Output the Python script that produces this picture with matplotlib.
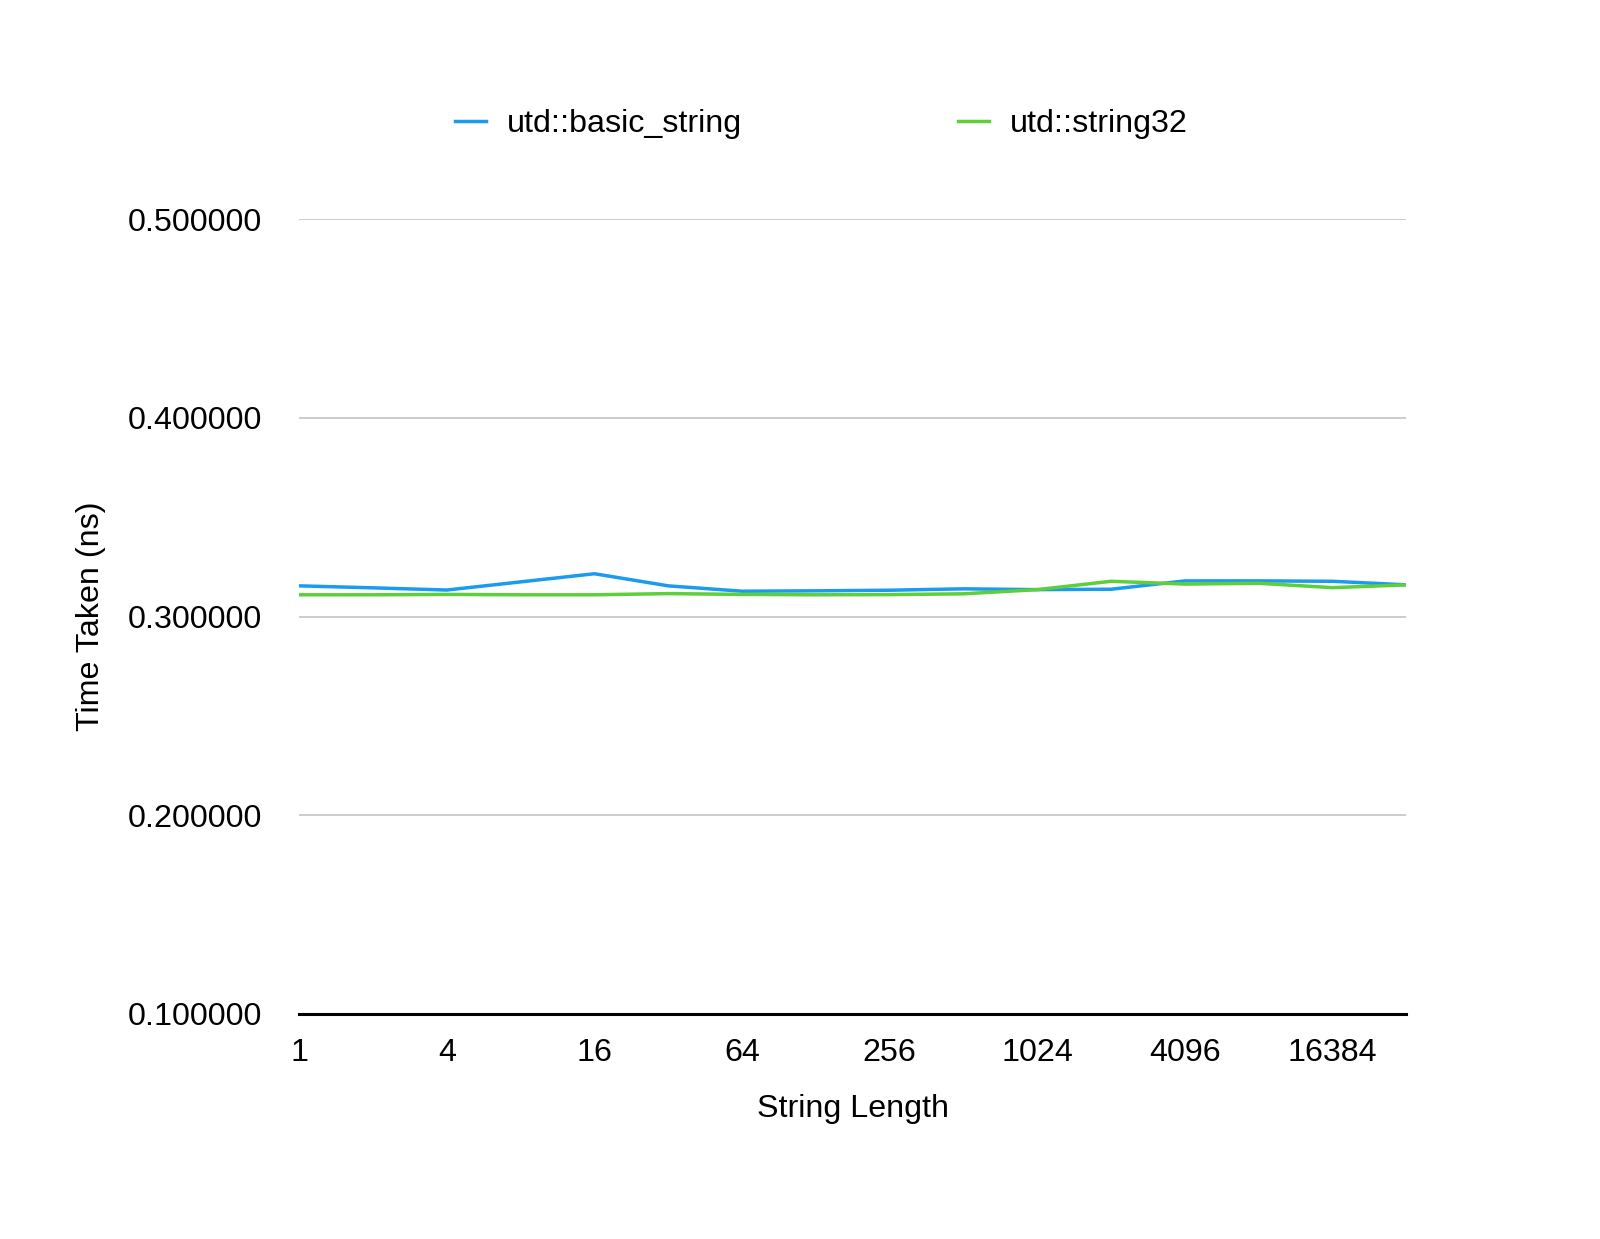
import numpy as np
import matplotlib
matplotlib.use("Agg")
from matplotlib import pyplot as plt

plt.rcParams['font.family'] = ['Liberation Sans', 'DejaVu Sans']

# string lengths (powers of two)
lengths = [1, 2, 4, 8, 16, 32, 64, 128, 256, 512, 1024, 2048, 4096, 8192, 16384, 32768]

# time taken (ns)
basic_string = [0.3155, 0.3145, 0.3134, 0.3175, 0.3216, 0.3155, 0.3128, 0.3130,
                0.3133, 0.3140, 0.3136, 0.3138, 0.3180, 0.3180, 0.3178, 0.3160]
string32 = [0.3110, 0.3110, 0.3112, 0.3110, 0.3110, 0.3116, 0.3112, 0.3110,
            0.3111, 0.3115, 0.3136, 0.3178, 0.3164, 0.3168, 0.3146, 0.3160]

yticks = [0.1, 0.2, 0.3, 0.4, 0.5]
fs = 23.2

fig = plt.figure(figsize=(16, 12.39), dpi=100)
ax = fig.add_axes([0.187, 0.1816, 0.692, 0.6414])

x = np.arange(len(lengths))
l1, = ax.plot(x, basic_string, color='#1a9bf0', lw=2.5, label='utd::basic_string')
l2, = ax.plot(x, string32, color='#5ccf3a', lw=2.5, label='utd::string32')

ax.set_xlim(0, len(lengths) - 1)
ax.set_ylim(0.1, 0.5)
ax.set_yticks(yticks)
ax.set_yticklabels([f"{v:.6f}" for v in yticks])
ax.set_xticks(x[::2])
ax.set_xticklabels([str(v) for v in lengths[::2]])

ax.grid(axis='y', color='#c8c8c8', lw=1.3)
ax.set_axisbelow(True)
for s in ['top', 'right', 'left']:
    ax.spines[s].set_visible(False)
ax.spines['bottom'].set_color('black')
ax.spines['bottom'].set_linewidth(2.2)
ax.spines['bottom'].set_zorder(5)

ax.tick_params(axis='both', length=0, labelsize=fs)
ax.tick_params(axis='y', pad=27)
ax.tick_params(axis='x', pad=17)

ax.set_xlabel("String Length", fontsize=fs, labelpad=19)
ax.set_ylabel("Time Taken (ns)", fontsize=fs, labelpad=15)

fig.legend(handles=[l1, l2], loc='center', bbox_to_anchor=(0.5134, 0.9), ncol=2,
           frameon=False, fontsize=fs, handlelength=0.95, handletextpad=0.65,
           columnspacing=6.72)

plt.savefig("out.png", dpi=100)
